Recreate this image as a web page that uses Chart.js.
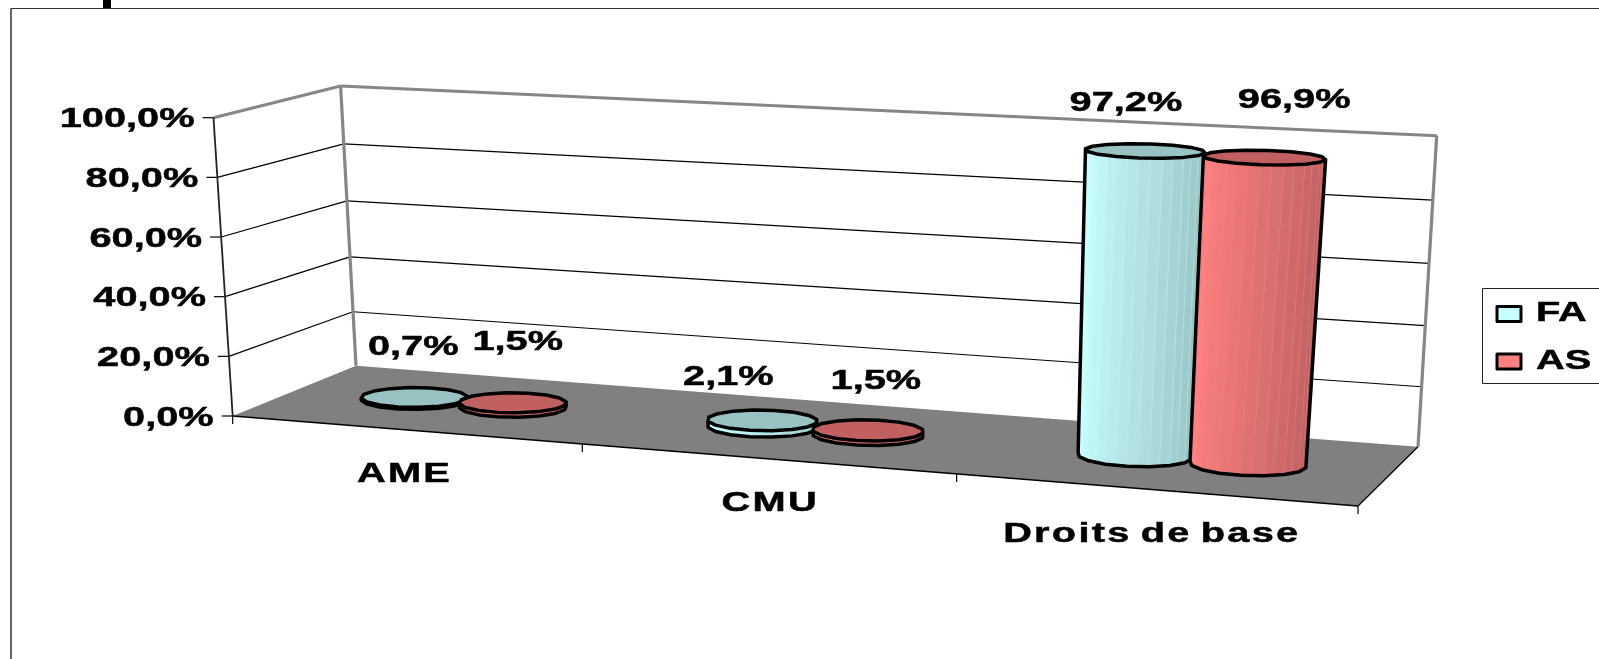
<!DOCTYPE html>
<html>
<head>
<meta charset="utf-8">
<title>Droits</title>
<script src="https://cdn.jsdelivr.net/npm/chart.js@4/dist/chart.umd.min.js"></script>
<style>
  html, body { margin: 0; padding: 0; background: #fff; overflow: hidden; }
  canvas { display: block; }
</style>
</head>
<body>
<canvas id="chart" width="1599" height="659"></canvas>
<script>
const categories = ['AME', 'CMU', 'Droits de base'];
const seriesNames = ['FA', 'AS'];
const faValues = [0.7, 2.1, 97.2];
const asValues = [1.5, 1.5, 96.9];
const yTickValues = [0, 20, 40, 60, 80, 100];
const yTickLabels = ['0,0%', '20,0%', '40,0%', '60,0%', '80,0%', '100,0%'];

// corners of the 3D box: front-left, front-right, back-right, back-left
const FLOOR = [[232.7, 416], [1358, 506], [1418, 446.7], [356, 365.7]];
const CEILING = [[213.5, 117.7], [1392, 175], [1436.7, 135.7], [340.6, 86]];

const FONT = 'bold 28px "Liberation Sans"';
const TEXT_STRETCH = 1.42;
const TEXT_SHIFT_Y = 2;
const SKEW_U = 0.036;
const SKEW_H = 0.045;
const DEPTH_CENTER = 0.5;
const DEPTH_RADIUS = 0.18;
const FACETS = 16;

const SERIES_STYLE = [
    { light: [200, 255, 255], dark: [150, 192, 192], top: '#99C2C2' },
    { light: [255, 128, 128], dark: [188, 96, 96], top: '#C06060' }
];
// value label offsets from the top centre of each cylinder, one row per series
const LABEL_OFFSET = [
    [[-1, -52], [-34, -45], [-19, -50]],
    [[5, -62], [8, -51], [30, -59]]
];
// offsets of category labels from the front edge
const CAT_LABEL_DX = [0, 4, -2];
const CAT_LABEL_DY = 43;

// square to quad homography
function quadMap(q) {
    const [p0, p1, p2, p3] = q;
    const dx1 = p1[0] - p2[0], dx2 = p3[0] - p2[0], sx = p0[0] - p1[0] + p2[0] - p3[0];
    const dy1 = p1[1] - p2[1], dy2 = p3[1] - p2[1], sy = p0[1] - p1[1] + p2[1] - p3[1];
    const den = dx1 * dy2 - dx2 * dy1;
    const g = (sx * dy2 - dx2 * sy) / den;
    const h = (dx1 * sy - sx * dy1) / den;
    const a = p1[0] - p0[0] + g * p1[0], b = p3[0] - p0[0] + h * p3[0];
    const d = p1[1] - p0[1] + g * p1[1], e = p3[1] - p0[1] + h * p3[1];
    return (u, v) => {
        const w = g * u + h * v + 1;
        return [(a * u + b * v + p0[0]) / w, (d * u + e * v + p0[1]) / w];
    };
}
const floorMap = quadMap(FLOOR);
const ceilingMap = quadMap(CEILING);

// u along the categories, d into the depth, h up the value axis (all 0..1)
function project(u, d, h) {
    const w = u - SKEW_U * u * (1 - u);
    const t = h - SKEW_H * d * h * (1 - h);
    const f = floorMap(w, d), c = ceilingMap(w, d);
    return [f[0] + (c[0] - f[0]) * t, f[1] + (c[1] - f[1]) * t];
}

function line(ctx, a, b, color, width) {
    ctx.strokeStyle = color;
    ctx.lineWidth = width;
    ctx.beginPath();
    ctx.moveTo(a[0], a[1]);
    ctx.lineTo(b[0], b[1]);
    ctx.stroke();
}

function wideText(ctx, text, x, y, align, spacing) {
    ctx.save();
    ctx.font = FONT;
    ctx.letterSpacing = (spacing || 0) + 'px';
    ctx.wordSpacing = spacing ? '-3px' : '0px';
    ctx.fillStyle = '#000';
    ctx.strokeStyle = '#000';
    ctx.lineWidth = 0.5;
    ctx.textAlign = align;
    ctx.textBaseline = 'middle';
    ctx.translate(x, y + TEXT_SHIFT_Y);
    ctx.scale(TEXT_STRETCH, 1);
    ctx.fillText(text, 0, 0);
    ctx.strokeText(text, 0, 0);
    ctx.restore();
}

function mix(a, b, t) {
    return 'rgb(' + a.map((v, i) => Math.round(v + (b[i] - v) * t)).join(',') + ')';
}

function trace(ctx, pts, close) {
    ctx.beginPath();
    pts.forEach((p, i) => i ? ctx.lineTo(p[0], p[1]) : ctx.moveTo(p[0], p[1]));
    if (close) ctx.closePath();
}

function drawCylinder(ctx, u, ur, h, style) {
    const base = [], top = [];
    for (let k = 0; k < FACETS; k++) {
        const a = 2 * Math.PI * k / FACETS + 0.1;
        const cu = u + ur * Math.cos(a), cd = DEPTH_CENTER + DEPTH_RADIUS * Math.sin(a);
        base.push(project(cu, cd, 0));
        top.push(project(cu, cd, h));
    }
    let kMin = 0, kMax = 0;
    base.forEach((p, k) => {
        if (p[0] < base[kMin][0]) kMin = k;
        if (p[0] > base[kMax][0]) kMax = k;
    });
    const arc = [kMin];
    while (arc[arc.length - 1] !== kMax) arc.push((arc[arc.length - 1] + 1) % FACETS);

    // side facets, shaded left to right, each split in two bands
    const bands = (arc.length - 1) * 2;
    for (let i = 0; i < bands; i++) {
        const j = Math.floor(i / 2), f0 = (i % 2) / 2, f1 = f0 + 0.5;
        const at = (ring, f) => {
            const p = ring[arc[j]], q = ring[arc[j + 1]];
            return [p[0] + (q[0] - p[0]) * f, p[1] + (q[1] - p[1]) * f];
        };
        const t = Math.max(0, (i / (bands - 1) - 0.12) / 0.88);
        trace(ctx, [at(top, f0), at(top, f1), at(base, f1), at(base, f0)], true);
        ctx.fillStyle = mix(style.light, style.dark, t);
        ctx.fill();
        ctx.strokeStyle = mix(style.light, style.dark, t * 0.6);
        ctx.lineWidth = 0.7;
        ctx.stroke();
    }

    ctx.lineJoin = 'round';
    ctx.strokeStyle = '#000';
    ctx.lineWidth = 3.5;
    trace(ctx, [top[kMin]].concat(arc.map(k => base[k]), [top[kMax]]), false);
    ctx.stroke();
    trace(ctx, top, true);
    ctx.fillStyle = style.top;
    ctx.fill();
    ctx.stroke();
}

const box3d = {
    id: 'box3d',
    beforeDatasetsDraw(chart) {
        const ctx = chart.ctx, y = chart.scales.y, x = chart.scales.x, area = chart.chartArea;
        ctx.save();

        // outer frame
        line(ctx, [11, 659], [11, 8.5], '#333', 1.5);
        line(ctx, [11, 8.5], [1599, 8.5], '#333', 1.2);
        ctx.fillStyle = '#000';
        ctx.fillRect(103, 0, 8, 8);

        // floor
        trace(ctx, [project(0, 0, 0), project(1, 0, 0), project(1, 1, 0), project(0, 1, 0)], true);
        ctx.fillStyle = '#808080';
        ctx.fill();

        // gridlines on both walls, with axis ticks and labels
        y.ticks.forEach(tick => {
            const h = (area.bottom - y.getPixelForValue(tick.value)) / area.height;
            const front = project(0, 0, h), corner = project(0, 1, h), right = project(1, 1, h);
            if (tick.value === 100) {
                line(ctx, front, corner, '#868686', 3);
                line(ctx, corner, right, '#868686', 3);
            } else if (tick.value > 0) {
                line(ctx, front, corner, '#000', 1.2);
                line(ctx, corner, right, '#000', 1.2);
            }
            line(ctx, [front[0] - 11, front[1]], front, '#000', 1.2);
            wideText(ctx, tick.label, front[0] - 19, front[1], 'right');
        });

        line(ctx, project(0, 1, 0), project(0, 1, 1), '#868686', 3.2);
        line(ctx, project(1, 1, 0), project(1, 1, 1), '#868686', 3.2);
        line(ctx, project(0, 0, 0), project(0, 0, 1), '#222', 1.8);
        line(ctx, project(0, 0, 0), project(1, 0, 0), '#000', 1.4);
        line(ctx, project(1, 0, 0), project(1, 1, 0), '#000', 1.2);

        // category ticks and labels along the front edge
        for (let i = 0; i <= categories.length; i++) {
            const u = (x.getPixelForValue(i - 0.5) - area.left) / area.width;
            const p = project(u, 0, 0);
            line(ctx, p, [p[0], p[1] + 8], '#000', 1.2);
        }
        categories.forEach((name, i) => {
            const u = (x.getPixelForValue(i) - area.left) / area.width;
            const p = project(u, 0, 0);
            wideText(ctx, name, p[0] + CAT_LABEL_DX[i], p[1] + CAT_LABEL_DY, 'center', 1.6);
        });
        ctx.restore();
    },
    afterDatasetsDraw(chart) {
        const ctx = chart.ctx, area = chart.chartArea;
        ctx.save();
        chart.data.datasets.forEach((ds, s) => {
            chart.getDatasetMeta(s).data.forEach(bar => {
                const u = (bar.x - area.left) / area.width;
                const ur = bar.width / 2 / area.width;
                const h = (area.bottom - bar.y) / area.height;
                drawCylinder(ctx, u, ur, h, SERIES_STYLE[s]);
            });
        });
        chart.data.datasets.forEach((ds, s) => {
            chart.getDatasetMeta(s).data.forEach((bar, i) => {
                const u = (bar.x - area.left) / area.width;
                const h = (area.bottom - bar.y) / area.height;
                const p = project(u, DEPTH_CENTER, h);
                const text = ds.data[i].toFixed(1).replace('.', ',') + '%';
                const off = LABEL_OFFSET[s][i];
                wideText(ctx, text, p[0] + off[0], p[1] + off[1], 'center');
            });
        });

        // legend
        ctx.fillStyle = '#fff';
        ctx.fillRect(1482.5, 288.5, 120, 95);
        ctx.strokeStyle = '#222';
        ctx.lineWidth = 1;
        ctx.strokeRect(1482.5, 288.5, 120, 95);
        chart.data.datasets.forEach((ds, s) => {
            const cy = 314 + s * 47.5;
            ctx.fillStyle = mix(SERIES_STYLE[s].light, SERIES_STYLE[s].light, 0);
            ctx.fillRect(1497, cy - 7.5, 24, 15);
            ctx.strokeStyle = '#000';
            ctx.lineWidth = 3;
            ctx.strokeRect(1497, cy - 7.5, 24, 15);
            wideText(ctx, ds.label, 1536, cy - 2.5, 'left');
        });
        ctx.restore();
    }
};

const hiddenAxis = {
    grid: { display: false },
    border: { display: false },
    ticks: { display: false }
};

new Chart(document.getElementById('chart'), {
    type: 'bar',
    data: {
        labels: categories,
        datasets: [
            { label: seriesNames[0], data: faValues, backgroundColor: 'rgba(0,0,0,0)' },
            { label: seriesNames[1], data: asValues, backgroundColor: 'rgba(0,0,0,0)' }
        ]
    },
    options: {
        responsive: false,
        animation: false,
        categoryPercentage: 0.58,
        barPercentage: 1,
        layout: { padding: { left: 230, right: 240, top: 118, bottom: 240 } },
        plugins: {
            legend: { display: false },
            tooltip: { enabled: false }
        },
        scales: {
            x: hiddenAxis,
            y: {
                ...hiddenAxis,
                min: 0,
                max: 100,
                afterBuildTicks: scale => {
                    scale.ticks = yTickValues.map(value => ({ value }));
                },
                ticks: { display: false, callback: (v, i) => yTickLabels[i] }
            }
        }
    },
    plugins: [box3d]
});
</script>
</body>
</html>
